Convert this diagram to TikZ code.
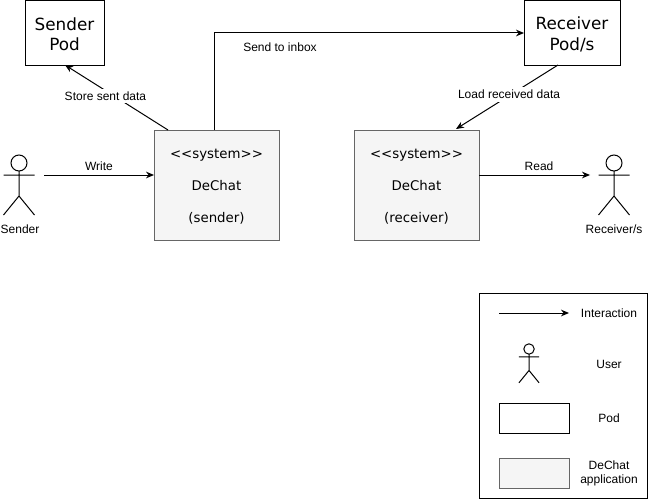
\documentclass[tikz,border=0pt]{standalone}
\usepackage{fontspec}
\setmainfont{Liberation Sans}
\newfontfamily\boxfont{DejaVu Sans}
\usetikzlibrary{positioning}
\usetikzlibrary{arrows.meta}

\newcommand{\podgap}{\rule{0pt}{11.5pt}}
\newcommand{\sysgap}{\rule{0pt}{9pt}}

\tikzset{
	pod/.style={draw=black, fill=white, line width=0.75pt, outer sep=0pt, align=center, font=\boxfont\fontsize{12.6}{15.2}\selectfont, minimum height=48.75pt},
	system/.style={draw=black!60, fill=black!4, line width=0.75pt, outer sep=0pt, align=center, font=\boxfont\fontsize{10}{24}\selectfont, minimum width=93.75pt, minimum height=82.5pt},
	label/.style={font=\fontsize{9}{10.5}\selectfont, inner sep=1pt},
	onedge/.style={label, fill=white, inner sep=2pt},
	link/.style={draw=black, line width=0.75pt, -{Stealth[length=6pt, width=5pt]}},
	actor/.pic={
		\draw[line width=0.75pt] (0,0) circle (8) (0,8) -- (0,33) (-15.5,12) -- (15.5,12) (-15.5,52) -- (0,33) -- (15.5,52);
	}
}

\begin{document}
\begin{tikzpicture}[x=0.75pt, y=-0.75pt]
	\useasboundingbox (0,0) rectangle (648,499);

	\node[pod, minimum width=59.25pt, anchor=north west] (senderpod) at (25,0.5) {\podgap Sender\\Pod};
	\node[pod, minimum width=72pt, anchor=north west] (receiverpod) at (524,0.5) {\podgap Receiver\\Pod/s};
	\node[system, anchor=north west] (syssender) at (154,130) {\sysgap <{}<system>{}>\\DeChat\\(sender)};
	\node[system, right=56.25pt of syssender] (sysreceiver) {\sysgap <{}<system>{}>\\DeChat\\(receiver)};

	\pic at (19,163) {actor};
	\pic at (614,163) {actor};
	\node[label] (sender) at (20,229) {Sender};
	\node[label] (receiver) at (614,229) {Receiver/s};

	\coordinate (senderhand) at (44,175);
	\coordinate (receiverhand) at (590,175);
	\coordinate (sendstart) at (214,130);
	\coordinate (storestart) at (168,130);
	\coordinate (storeend) at (65,65);
	\coordinate (loadstart) at (558,65);
	\coordinate (loadend) at (456,129);

	\draw[link] (senderhand) -- (senderhand -| syssender.west);
	\node[label] (write) at (99,166) {Write};
	\draw[link] (sysreceiver.east |- receiverhand) -- (receiverhand);
	\node[label] (read) at (539,166) {Read};
	\draw[link] (sendstart) |- (receiverpod.west);
	\node[label] (inbox) at (280,47) {Send to inbox};
	\draw[link] (storestart) -- node[onedge, pos=0.52, xshift=-6.75pt] (store) {Store sent data} (storeend);
	\draw[link] (loadstart) -- node[onedge, pos=0.46, xshift=-1.5pt] (load) {Load received data} (loadend);

	% legend
	\node[draw=black, line width=0.75pt, outer sep=0pt, minimum width=126pt, minimum height=153.75pt, anchor=north west] (legend) at (479,293) {};
	\coordinate (legendstart) at (499,313);
	\coordinate (legendend) at (569,313);
	\draw[link] (legendstart) -- (legendend);
	\node[label] (interaction) at (609,313) {Interaction};
	\pic[scale=0.65] at (529,349) {actor};
	\node[label] (user) at (609,364) {User};
	\node[draw=black, line width=0.75pt, outer sep=0pt, minimum width=52.5pt, minimum height=22.5pt, anchor=north west] (podkey) at (499,403) {};
	\node[label] (podtext) at (609,418) {Pod};
	\node[draw=black!60, fill=black!4, line width=0.75pt, outer sep=0pt, minimum width=52.5pt, minimum height=22.5pt, anchor=north west] (appkey) at (499,458) {};
	\node[label, align=center] (apptext) at (609,473) {DeChat\\application};
\end{tikzpicture}
\end{document}
